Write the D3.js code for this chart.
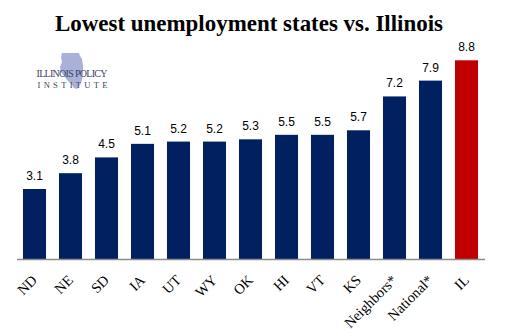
<!DOCTYPE html>
<html><head><meta charset="utf-8">
<script src="https://cdn.jsdelivr.net/npm/d3@7"></script>
<style>body{margin:0;background:#fff}svg{display:block}</style>
</head><body>
<script>
const categories = ["ND","NE","SD","IA","UT","WY","OK","HI","VT","KS","Neighbors*","National*","IL"];
const values = [3.1,3.8,4.5,5.1,5.2,5.2,5.3,5.5,5.5,5.7,7.2,7.9,8.8];
const highlight = ["IL"];
const titleText = "Lowest unemployment states vs. Illinois";

const W=515,H=336;
const svg=d3.select("body").append("svg").attr("width",W).attr("height",H);
const x=d3.scaleBand().domain(categories).range([16.5,484.5]).paddingInner(0.36).paddingOuter(0.18);
const y=d3.scaleLinear().domain([0,10]).range([259,33.2]);

svg.append("text").attr("x",249).attr("y",31).attr("text-anchor","middle")
  .attr("font-family","Liberation Serif, serif").attr("font-weight","bold").attr("font-size",23)
  .attr("textLength",388).attr("lengthAdjust","spacingAndGlyphs")
  .attr("fill","#000").text(titleText);

// logo
const logo=svg.append("g");
logo.append("path").attr("fill","#a9b1d8")
 .attr("d","M62,53 L79,53 L80,56 L82,59 L83,66 L83,74 L82,80 L80,85 L77,89 L74,88 L71,84 L67,80 L64,76 L61,72 L60,67 L62,62 L61,57 Z");
logo.append("text").attr("x",72).attr("y",77).attr("text-anchor","middle")
 .attr("font-family","Liberation Serif, serif").attr("font-size",10).attr("fill","#3d4266")
 .attr("textLength",71).text("ILLINOIS POLICY");
logo.append("text").attr("x",72.5).attr("y",87.5).attr("text-anchor","middle")
 .attr("font-family","Liberation Serif, serif").attr("font-size",8.5).attr("fill","#3d4266")
 .attr("textLength",70).attr("lengthAdjust","spacing").text("INSTITUTE");

svg.selectAll("rect.bar").data(categories).enter().append("rect")
 .attr("x",d=>x(d)).attr("width",x.bandwidth())
 .attr("y",(d,i)=>y(values[i])).attr("height",(d,i)=>y(0)-y(values[i]))
 .attr("fill",d=>highlight.includes(d)?"#c00000":"#002060");

svg.selectAll("text.val").data(categories).enter().append("text")
 .attr("x",d=>x(d)+x.bandwidth()/2).attr("y",(d,i)=>y(values[i])-9)
 .attr("text-anchor","middle").attr("font-family","Liberation Sans, Arial, sans-serif")
 .attr("font-size",12).attr("fill","#000").text((d,i)=>values[i].toFixed(1));

const ax=svg.append("g").attr("transform","translate(0,259)")
 .call(d3.axisBottom(x).tickSize(0).tickPadding(0));
ax.select(".domain").attr("stroke","#8c8c8c").attr("stroke-width",1.3);
ax.selectAll(".tick text").attr("font-family","Liberation Serif, serif").attr("font-size",14.5)
 .attr("fill","#000").attr("text-anchor","end").attr("dy",0)
 .attr("transform","translate(3.5,22) rotate(-45)");
</script>
</body></html>
